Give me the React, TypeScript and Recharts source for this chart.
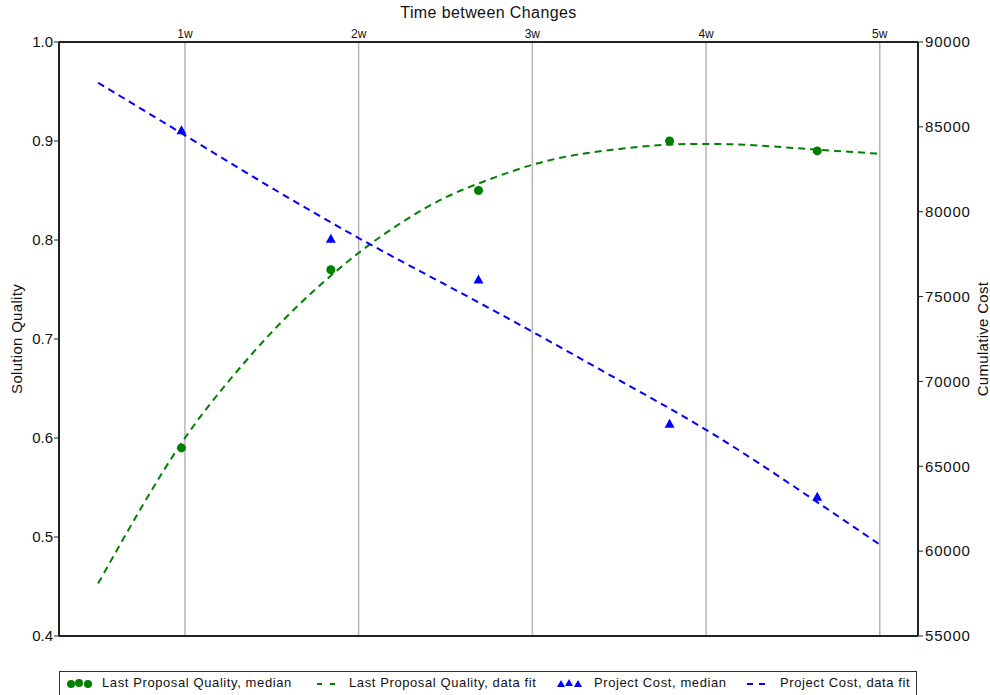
import {
  ComposedChart,
  Line,
  Scatter,
  XAxis,
  YAxis,
  CartesianGrid,
  ReferenceLine,
} from 'recharts';

// weeks between changes
const medianWeeks = [0.98, 1.84, 2.69, 3.79, 4.64];
const qualityMedian = [0.59, 0.77, 0.85, 0.9, 0.89];
const costMedian = [84800, 78400, 76000, 67500, 63200];

const fitWeeks = [0.5, 0.75, 1, 1.25, 1.5, 1.75, 2, 2.25, 2.5, 2.75, 3, 3.25, 3.5, 3.75, 4, 4.25, 4.5, 4.75, 5];
const qualityFit = [0.453, 0.53, 0.6, 0.657, 0.707, 0.75, 0.787, 0.818, 0.843, 0.861, 0.876, 0.886, 0.892, 0.896, 0.897, 0.896, 0.893, 0.89, 0.887];

const costFitWeeks = [0.5, 1, 1.5, 2, 2.5, 3, 3.5, 4, 4.5, 5];
const costFit = [87600, 84500, 81400, 78450, 75700, 72930, 70070, 67150, 63850, 60385];

const weekTicks = [1, 2, 3, 4, 5];
const qualityTicks = [0.4, 0.5, 0.6, 0.7, 0.8, 0.9, 1.0];
const costTicks = [55000, 60000, 65000, 70000, 75000, 80000, 85000, 90000];

const GREEN = '#008000';
const BLUE = '#0000ff';
const FONT = '"Liberation Sans", Arial, sans-serif';

const qualityMedianData = medianWeeks.map((x, i) => ({ x, y: qualityMedian[i] }));
const costMedianData = medianWeeks.map((x, i) => ({ x, y: costMedian[i] }));
const qualityFitData = fitWeeks.map((x, i) => ({ x, y: qualityFit[i] }));
const costFitData = costFitWeeks.map((x, i) => ({ x, y: costFit[i] }));

const Dot = (props: any) => <circle cx={props.cx} cy={props.cy} r={4.5} fill={GREEN} />;

const Tri = (props: any) => {
  const { cx, cy } = props;
  return <polygon points={`${cx},${cy - 5} ${cx + 5},${cy + 4} ${cx - 5},${cy + 4}`} fill={BLUE} />;
};

const legendText = { fontSize: 13, letterSpacing: 0.6, color: '#111' };

const LegendBox = () => (
  <div
    style={{
      position: 'absolute',
      left: 59,
      top: 671,
      width: 858,
      height: 30,
      border: '1.5px solid #333',
      fontFamily: FONT,
      boxSizing: 'border-box',
    }}
  >
    <svg width={858} height={28} style={{ position: 'absolute', left: 0, top: 0 }}>
      <circle cx={11} cy={12} r={4} fill={GREEN} />
      <circle cx={19} cy={11} r={4} fill={GREEN} />
      <circle cx={28} cy={12} r={4} fill={GREEN} />
      <line x1={257} y1={12} x2={275} y2={12} stroke={GREEN} strokeWidth={2} strokeDasharray="5 8" />
      <polygon points="501,8 505,15 497,15" fill={BLUE} />
      <polygon points="509,7 513,14 505,14" fill={BLUE} />
      <polygon points="518,8 522,15 514,15" fill={BLUE} />
      <line x1={687} y1={12} x2={707} y2={12} stroke={BLUE} strokeWidth={2} strokeDasharray="6 6" />
    </svg>
    <span style={{ ...legendText, position: 'absolute', left: 42, top: 3 }}>Last Proposal Quality, median</span>
    <span style={{ ...legendText, position: 'absolute', left: 289, top: 3 }}>Last Proposal Quality, data fit</span>
    <span style={{ ...legendText, position: 'absolute', left: 534, top: 3 }}>Project Cost, median</span>
    <span style={{ ...legendText, position: 'absolute', left: 720, top: 3 }}>Project Cost, data fit</span>
  </div>
);

export default function App() {
  return (
    <div style={{ position: 'absolute', left: 0, top: 0, width: 990, height: 695, overflow: 'hidden', background: '#fff' }}>
      <ComposedChart
        width={990}
        height={695}
        margin={{ top: 0, right: 0, bottom: 59, left: 0 }}
        style={{ fontFamily: FONT }}
      >
        <CartesianGrid horizontal={false} stroke="#b5b5b5" strokeWidth={1.5} xAxisId="top" yAxisId="left" />
        <XAxis
          xAxisId="top"
          orientation="top"
          type="number"
          dataKey="x"
          domain={[0.275, 5.22]}
          allowDataOverflow
          ticks={weekTicks}
          tickFormatter={(v) => `${v}w`}
          height={42}
          tickLine={false}
          tickSize={0}
          tickMargin={4}
          axisLine={{ stroke: '#222', strokeWidth: 2 }}
          tick={{ fontSize: 12, fill: '#111' }}
          label={{ value: 'Time between Changes', position: 'insideTop', offset: 7, fontSize: 16, letterSpacing: 0.4, fill: '#111' }}
        />
        <YAxis
          yAxisId="left"
          type="number"
          domain={[0.4, 1.0]}
          ticks={qualityTicks}
          tickFormatter={(v) => v.toFixed(1)}
          width={59}
          tickSize={5}
          tickMargin={1}
          tickLine={{ stroke: '#222' }}
          axisLine={{ stroke: '#222', strokeWidth: 2 }}
          tick={{ fontSize: 15, fill: '#111' }}
          label={{ value: 'Solution Quality', angle: -90, position: 'insideLeft', offset: 17, fontSize: 15, letterSpacing: 0.3, fill: '#111', style: { textAnchor: 'middle' } }}
        />
        <YAxis
          yAxisId="right"
          orientation="right"
          type="number"
          domain={[55000, 90000]}
          ticks={costTicks}
          width={72}
          tickSize={5}
          tickMargin={2}
          tickLine={{ stroke: '#222' }}
          axisLine={{ stroke: '#222', strokeWidth: 2 }}
          tick={{ fontSize: 15, fill: '#111', letterSpacing: 0.8 }}
          label={{ value: 'Cumulative Cost', angle: -90, position: 'insideRight', offset: 7, fontSize: 15, letterSpacing: 0.3, fill: '#111', style: { textAnchor: 'middle' } }}
        />
        <ReferenceLine y={0.4} xAxisId="top" yAxisId="left" stroke="#222" strokeWidth={2} />
        <Line
          data={qualityFitData}
          xAxisId="top"
          yAxisId="left"
          dataKey="y"
          type="natural"
          stroke={GREEN}
          strokeWidth={2}
          strokeDasharray="7 5"
          dot={false}
          isAnimationActive={false}
        />
        <Line
          data={costFitData}
          xAxisId="top"
          yAxisId="right"
          dataKey="y"
          type="natural"
          stroke={BLUE}
          strokeWidth={2}
          strokeDasharray="7 5"
          dot={false}
          isAnimationActive={false}
        />
        <Scatter data={qualityMedianData} xAxisId="top" yAxisId="left" dataKey="y" shape={Dot} isAnimationActive={false} />
        <Scatter data={costMedianData} xAxisId="top" yAxisId="right" dataKey="y" shape={Tri} isAnimationActive={false} />
      </ComposedChart>
      <LegendBox />
    </div>
  );
}
